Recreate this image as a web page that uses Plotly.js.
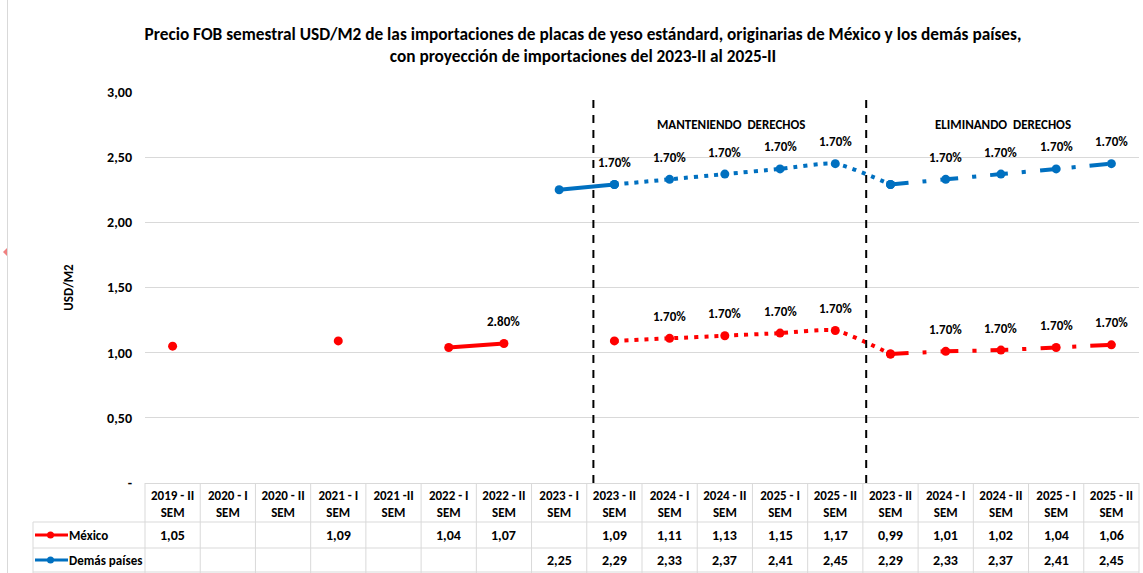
<!DOCTYPE html>
<html><head><meta charset="utf-8">
<script src="https://cdn.plot.ly/plotly-3.0.1.min.js"></script>
<style>html,body{margin:0;padding:0;background:#fff}</style>
</head><body><div id="chart" style="width:1143px;height:573px"></div>
<script>
const categories = ["2019 - II","2020 - I","2020 - II","2021 - I","2021 -II","2022 - I","2022 - II","2023 - I","2023 - II","2024 - I","2024 - II","2025 - I","2025 - II","2023 - II","2024 - I","2024 - II","2025 - I","2025 - II"];
const mexico = [1.05,null,null,1.09,null,1.04,1.07,null,1.09,1.11,1.13,1.15,1.17,0.99,1.01,1.02,1.04,1.06];
const demas  = [null,null,null,null,null,null,null,2.25,2.29,2.33,2.37,2.41,2.45,2.29,2.33,2.37,2.41,2.45];
const mexicoGrowth = ["","","","","","","2.80%","","","1.70%","1.70%","1.70%","1.70%","","1.70%","1.70%","1.70%","1.70%"];
const demasGrowth  = ["","","","","","","","","1.70%","1.70%","1.70%","1.70%","1.70%","","1.70%","1.70%","1.70%","1.70%"];
const yTicks = [0,0.5,1,1.5,2,2.5,3];
const yTickLabels = ["-","0,50","1,00","1,50","2,00","2,50","3,00"];
const seriesNames = ["México","Demás países"];
const sectionLabels = ["MANTENIENDO  DERECHOS","ELIMINANDO  DERECHOS"];

const FONT = "Carlito, 'Liberation Sans Narrow', 'Arial Narrow', 'Liberation Sans', sans-serif";
const RED = "#ff0000", BLUE = "#0070c0", GRID = "#d9d9d9";
const W = 1143, H = 573, L = 145, R = 4, T = 92, B = 90;
const PW = W - L - R, PH = H - T - B;
const px = x => (x - L) / PW;        // pixel -> paper x
const py = y => (H - B - y) / PH;    // pixel -> paper y
const idx = categories.map((_, i) => i);

function seg(arr, a, b) {
  const xs = [], ys = [];
  for (let i = a; i <= b; i++) if (arr[i] !== null) { xs.push(i); ys.push(arr[i]); }
  return {x: xs, y: ys};
}
function trace(arr, a, b, color, mode, dash, name) {
  const s = seg(arr, a, b);
  return {type: 'scatter', x: s.x, y: s.y, mode: mode, name: name, showlegend: false,
    line: {color: color, width: 4, dash: dash, shape: 'spline', smoothing: 0.6},
    marker: {color: color, size: 9}, hoverinfo: 'y', cliponaxis: false};
}
const DOT = "4px,6px";
const DASHDOT = "18px,14px,4px,14px";
const traces = [
  trace(mexico, 0, 0, RED, 'markers', 'solid', seriesNames[0]),
  trace(mexico, 3, 3, RED, 'markers', 'solid', seriesNames[0]),
  trace(mexico, 5, 6, RED, 'lines+markers', 'solid', seriesNames[0]),
  trace(mexico, 8, 13, RED, 'lines+markers', DOT, seriesNames[0]),
  trace(mexico, 13, 17, RED, 'lines+markers', DASHDOT, seriesNames[0]),
  trace(demas, 7, 8, BLUE, 'lines+markers', 'solid', seriesNames[1]),
  trace(demas, 8, 13, BLUE, 'lines+markers', DOT, seriesNames[1]),
  trace(demas, 13, 17, BLUE, 'lines+markers', DASHDOT, seriesNames[1])
];

const annotations = [];
const shapes = [];
const boldFont = (s) => ({family: FONT, size: s, color: '#000', weight: 'bold'});

// growth labels
[[mexico, mexicoGrowth], [demas, demasGrowth]].forEach(([vals, labs]) => {
  labs.forEach((t, i) => {
    if (t && vals[i] !== null) annotations.push({x: i, y: vals[i], xref: 'x', yref: 'y', text: t,
      showarrow: false, yshift: 22, xanchor: 'center', yanchor: 'middle', font: boldFont(13)});
  });
});
// section labels
annotations.push({x: 10.12, y: 2.75, xref: 'x', yref: 'y', text: sectionLabels[0], showarrow: false, xanchor: 'center', yanchor: 'middle', font: boldFont(13)});
annotations.push({x: 15.04, y: 2.75, xref: 'x', yref: 'y', text: sectionLabels[1], showarrow: false, xanchor: 'center', yanchor: 'middle', font: boldFont(13)});
// dashed separators
[7.62, 12.56].forEach(xv => shapes.push({type: 'line', xref: 'x', yref: 'y', x0: xv, x1: xv, y0: 0, y1: 2.97,
  line: {color: '#000', width: 2, dash: '8px,7px'}}));

// table values
const fmt = v => v.toFixed(2).replace('.', ',');
const rowY = [535, 560];
[mexico, demas].forEach((vals, r) => {
  vals.forEach((v, i) => {
    if (v !== null) annotations.push({x: i, y: py(rowY[r]), xref: 'x', yref: 'paper', text: fmt(v),
      showarrow: false, xanchor: 'center', yanchor: 'middle', font: boldFont(14)});
  });
  annotations.push({x: px(67), y: py(rowY[r]), xref: 'paper', yref: 'paper', xanchor: 'left', yanchor: 'middle', text: seriesNames[r],
    showarrow: false, font: boldFont(13)});
});
// legend keys
[[RED, 535], [BLUE, 560]].forEach(([c, y]) => {
  shapes.push({type: 'line', xref: 'paper', yref: 'paper', x0: px(35), x1: px(68), y0: py(y), y1: py(y), line: {color: c, width: 3}});
  shapes.push({type: 'circle', xref: 'paper', yref: 'paper', x0: px(47), x1: px(54), y0: py(y - 3.5), y1: py(y + 3.5), fillcolor: c, line: {color: c, width: 0}});
});
// table grid
const gl = {color: GRID, width: 1};
const colX = k => L + PW * k / categories.length;
for (let k = 0; k <= categories.length; k++) {
  shapes.push({type: 'line', xref: 'paper', yref: 'paper', x0: px(colX(k)), x1: px(colX(k)), y0: py(483), y1: py(573), line: gl});
}
shapes.push({type: 'line', xref: 'paper', yref: 'paper', x0: px(33), x1: px(33), y0: py(522), y1: py(573), line: gl});
[522, 548, 572].forEach(y => shapes.push({type: 'line', xref: 'paper', yref: 'paper', x0: px(33), x1: 1, y0: py(y), y1: py(y), line: gl}));
// outer frame line at left
shapes.push({type: 'line', xref: 'paper', yref: 'paper', x0: px(7.5), x1: px(7.5), y0: py(0), y1: py(573), line: {color: GRID, width: 1}});
shapes.push({type: 'path', xref: 'paper', yref: 'paper',
  path: `M ${px(3)} ${py(252)} L ${px(7)} ${py(248)} L ${px(7)} ${py(256)} Z`, fillcolor: '#f08080', line: {width: 0}});

const layout = {
  width: W, height: H,
  margin: {l: L, r: R, t: T, b: B},
  paper_bgcolor: '#fff', plot_bgcolor: '#fff',
  font: {family: FONT, color: '#000'},
  title: {text: 'Precio FOB semestral USD/M2 de las importaciones de placas de yeso estándard, originarias de México y los demás países,<br>con proyección de importaciones del 2023-II al 2025-II',
    font: boldFont(17.3), x: 583 / W, xanchor: 'center', xref: 'container', y: 1 - 40 / H, yanchor: 'top', yref: 'container'},
  xaxis: {range: [-0.5, 17.5], tickvals: idx, ticktext: categories.map(c => c + '<br>SEM'),
    showgrid: false, zeroline: false, showline: true, linecolor: GRID, linewidth: 1, ticks: '',
    tickfont: boldFont(13), fixedrange: true},
  yaxis: {range: [0, 3], tickvals: yTicks, ticktext: yTickLabels, showgrid: true, gridcolor: GRID, gridwidth: 1,
    zeroline: false, showline: false, ticks: '', tickfont: boldFont(14), ticklabelstandoff: 12,
    title: {text: 'USD/M2', font: boldFont(13), standoff: 30}, fixedrange: true},
  annotations: annotations, shapes: shapes, showlegend: false
};
Plotly.newPlot('chart', traces, layout, {displayModeBar: false, staticPlot: true});
</script></body></html>
